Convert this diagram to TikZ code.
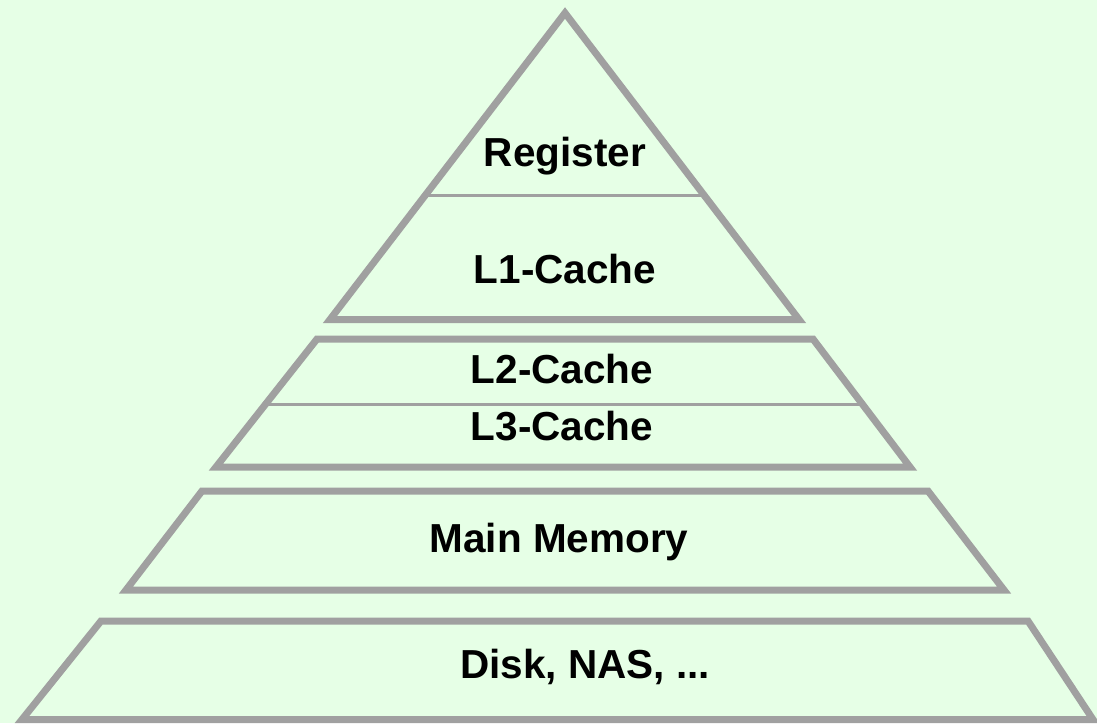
\documentclass[tikz,border=0pt]{standalone}
\usepackage{fontspec}
\setmainfont{Liberation Sans}
\definecolor{bgc}{RGB}{230,255,230}
\definecolor{edgec}{RGB}{160,160,160}
\begin{document}
\begin{tikzpicture}[x=1pt,y=-1pt,
  level/.style={draw=edgec,line width=7pt,line join=miter,miter limit=20},
  divider/.style={draw=edgec,line width=3pt},
  lbl/.style={anchor=base,font=\fontsize{40.5}{48}\selectfont\bfseries,text=black,inner sep=0pt}]
\fill[bgc] (0,0) rectangle (1097,723);
\useasboundingbox (0,0) rectangle (1097,723);
% dividers
\coordinate (d1l) at (425.4,195);
\coordinate (d1r) at (704,195);
\coordinate (d2l) at (265.7,404);
\coordinate (d2r) at (862.3,404);
\draw[divider] (d1l) -- (d1r);
\draw[divider] (d2l) -- (d2r);
% triangle
\coordinate (t1) at (565,13);
\coordinate (t2) at (799,319.5);
\coordinate (t3) at (330,319.5);
\draw[level] (t1) -- (t2) -- (t3) -- cycle;
% trapezoid L2/L3
\coordinate (a1) at (317,339);
\coordinate (a2) at (813,339);
\coordinate (a3) at (910,467);
\coordinate (a4) at (216,467);
\draw[level] (a1) -- (a2) -- (a3) -- (a4) -- cycle;
% trapezoid main memory
\coordinate (b1) at (202,491);
\coordinate (b2) at (928,491);
\coordinate (b3) at (1004,590);
\coordinate (b4) at (126,590);
\draw[level] (b1) -- (b2) -- (b3) -- (b4) -- cycle;
% trapezoid disk
\coordinate (c1) at (101,621);
\coordinate (c2) at (1028,621);
\coordinate (c3) at (1093,719.5);
\coordinate (c4) at (22,719.5);
\draw[level] (c1) -- (c2) -- (c3) -- (c4) -- cycle;
% labels
\node[lbl] (reg) at (565,166) {Register};
\node[lbl] (l1) at (565,283) {L1-Cache};
\node[lbl] (l2) at (562,383) {L2-Cache};
\node[lbl] (l3) at (562,440) {L3-Cache};
\node[lbl] (mm) at (559,552) {Main Memory};
\node[lbl] (disk) at (585,678) {Disk, NAS, ...};
\end{tikzpicture}
\end{document}
